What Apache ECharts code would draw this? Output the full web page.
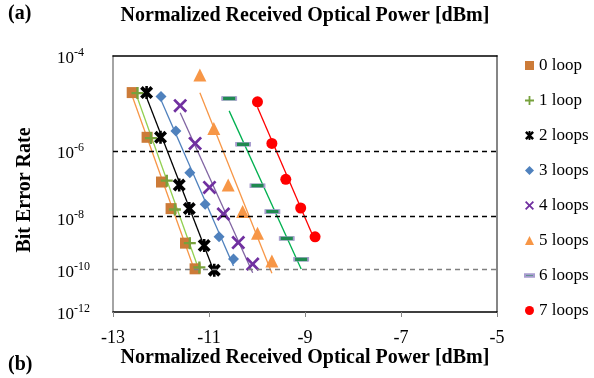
<!DOCTYPE html>
<html>
<head>
<meta charset="utf-8">
<script src="https://cdn.jsdelivr.net/npm/echarts@6/dist/echarts.min.js"></script>
<style>
html,body{margin:0;padding:0;background:#fff;}
#chart{width:594px;height:378px;}
</style>
</head>
<body>
<div id="chart"></div>
<script>
// Normalized received optical power [dBm] and log10(BER) per series
const seriesNames = ['0 loop', '1 loop', '2 loops', '3 loops', '4 loops', '5 loops', '6 loops', '7 loops'];
const loop0Power = [-12.60, -12.29, -11.99, -11.79, -11.49, -11.29];
const loop0LogBER = [-4.68, -5.67, -6.87, -7.70, -8.93, -9.97];
const loop1Power = [-12.49, -12.21, -11.88, -11.71, -11.40, -11.20];
const loop1LogBER = [-4.69, -5.69, -6.83, -7.73, -8.93, -9.91];
const loop2Power = [-12.30, -12.01, -11.62, -11.41, -11.10, -10.89];
const loop2LogBER = [-4.68, -5.67, -6.96, -7.70, -9.02, -10.03];
const loop3Power = [-12.00, -11.69, -11.40, -11.08, -10.79, -10.49];
const loop3LogBER = [-4.76, -5.52, -6.60, -7.56, -8.69, -9.56];
const loop4Power = [-11.60, -11.29, -10.99, -10.70, -10.39, -10.09];
const loop4LogBER = [-4.95, -5.82, -7.03, -7.88, -8.91, -9.77];
const loop5Power = [-11.19, -10.90, -10.60, -10.30, -9.99, -9.69];
const loop5LogBER = [-4.34, -5.46, -6.96, -7.80, -8.56, -9.64];
const loop6Power = [-10.58, -10.29, -9.99, -9.68, -9.38, -9.08];
const loop6LogBER = [-4.80, -5.84, -6.98, -7.80, -8.75, -9.57];
const loop7Power = [-9.99, -9.69, -9.40, -9.09, -8.79];
const loop7LogBER = [-4.87, -5.82, -6.79, -7.68, -8.69];
const xTicks = [-13, -11, -9, -7, -5];
const berExponentTicks = [4, 6, 8, 10, 12];
const gridExponents = [6, 8, 10];

const powers = [loop0Power, loop1Power, loop2Power, loop3Power, loop4Power, loop5Power, loop6Power, loop7Power];
const logBers = [loop0LogBER, loop1LogBER, loop2LogBER, loop3LogBER, loop4LogBER, loop5LogBER, loop6LogBER, loop7LogBER];

// BER scale: y = log10(-log10(BER))
const toY = (logBer) => Math.log10(-logBer);
const expToY = (e) => Math.log10(e);

const FONT = '"Liberation Serif", "Times New Roman", serif';

const markerColors = ['#cc7b38', '#77a13c', '#000000', '#4f81bd', '#7030a0', '#f79646', '#1f8a50', '#ff0000'];
const lineColors = ['#f79646', '#92d050', '#000000', '#4f81bd', '#8064a2', '#f79646', '#00b050', '#ff0000'];
const symbols = [
  'rect',
  'path://M4,0H6V4H10V6H6V10H4V6H0V4H4Z',
  'path://M0,2L2,0L10,8L8,10Z M8,0L10,2L2,10L0,8Z M4,0H6V10H4Z',
  'diamond',
  'path://M0,1.4L1.4,0L5,3.6L8.6,0L10,1.4L6.4,5L10,8.6L8.6,10L5,6.4L1.4,10L0,8.6L3.6,5Z',
  'triangle',
  'rect',
  'circle'
];
const symbolSizes = [11, 12, 13, 11, 14, 13, [14, 4], 11];

function fit(xs, ys) {
  const n = xs.length;
  let sx = 0, sy = 0, sxx = 0, sxy = 0;
  for (let i = 0; i < n; i++) { sx += xs[i]; sy += ys[i]; sxx += xs[i] * xs[i]; sxy += xs[i] * ys[i]; }
  const b = (n * sxy - sx * sy) / (n * sxx - sx * sx);
  const a = (sy - b * sx) / n;
  const x0 = Math.min(...xs), x1 = Math.max(...xs);
  return [[x0, a + b * x0], [x1, a + b * x1]];
}

const series = [];
// dashed reference lines
series.push({
  type: 'line', data: [], silent: true,
  markLine: {
    silent: true, symbol: 'none', label: { show: false },
    data: gridExponents.map((e, i) => ({
      yAxis: expToY(e),
      lineStyle: { color: i === 2 ? '#7f7f7f' : '#000000', type: [5, 4], width: 1.3 }
    }))
  }
});
for (let k = 0; k < seriesNames.length; k++) {
  const ys = logBers[k].map(toY);
  series.push({
    type: 'line', name: seriesNames[k] + ' fit', data: fit(powers[k], ys),
    symbol: 'none', silent: true, z: 2,
    lineStyle: { color: lineColors[k], width: 1.3 }
  });
}
for (let k = 0; k < seriesNames.length; k++) {
  const itemStyle = { color: markerColors[k], opacity: 1 };
  if (k === 6) { itemStyle.borderColor = '#a89ccf'; itemStyle.borderWidth = 1; }
  series.push({
    type: 'scatter', name: seriesNames[k],
    data: powers[k].map((x, i) => [x, toY(logBers[k][i])]),
    symbol: symbols[k], symbolSize: symbolSizes[k], z: 3,
    itemStyle
  });
}

const legendData = seriesNames.map((n, k) => k === 6 ? { name: n, icon: 'path://M0,0H14V4H0Z' } : { name: n });

const option = {
  animation: false,
  backgroundColor: '#ffffff',
  grid: { left: 113, top: 56, width: 384, height: 256, containLabel: false },
  legend: {
    orient: 'vertical', left: 519, top: 52, itemGap: 18,
    itemWidth: 9, itemHeight: 9, data: legendData,
    textStyle: { fontFamily: FONT, fontSize: 17, color: '#000', lineHeight: 17 },
    selectedMode: false
  },
  xAxis: [
    {
      type: 'value', min: -13, max: -5, interval: 2, position: 'bottom',
      axisLine: { onZero: false, lineStyle: { color: '#000', width: 1.5 } },
      axisTick: { show: true, inside: false, length: 5, lineStyle: { color: '#868686' } },
      axisLabel: { fontFamily: FONT, fontSize: 18, color: '#000', margin: 17 },
      splitLine: { show: false }
    },
    {
      type: 'value', min: -13, max: -5, position: 'top',
      axisLine: { onZero: false, lineStyle: { color: '#000', width: 1.5 } },
      axisTick: { show: false }, axisLabel: { show: false }, splitLine: { show: false }
    }
  ],
  yAxis: [
    {
      type: 'value', inverse: true, min: expToY(4), max: expToY(12), position: 'left',
      axisLine: { show: true, onZero: false, lineStyle: { color: '#868686', width: 1.5 } },
      axisTick: { show: false },
      splitLine: { show: false },
      axisLabel: {
        customValues: berExponentTicks.map(expToY),
        align: 'left', margin: 56,
        formatter: (v) => '{b|10}{s|-' + Math.round(Math.pow(10, v)) + '}',
        rich: {
          b: { fontFamily: FONT, fontSize: 17, color: '#000', padding: [6, 0, 0, 0] },
          s: { fontFamily: FONT, fontSize: 12, color: '#000', padding: [0, 0, 6, 0] }
        }
      }
    },
    {
      type: 'value', inverse: true, min: expToY(4), max: expToY(12), position: 'right',
      axisLine: { show: true, onZero: false, lineStyle: { color: '#868686', width: 2 } },
      axisTick: { show: false }, axisLabel: { show: false }, splitLine: { show: false }
    }
  ],
  graphic: [
    { type: 'text', left: 8, top: 4, style: { text: '(a)', font: 'bold 20px ' + FONT, fill: '#000' } },
    { type: 'text', x: 305, y: 16, style: { text: 'Normalized Received Optical Power [dBm]', font: 'bold 20px ' + FONT, fill: '#000', textAlign: 'center', textVerticalAlign: 'middle' } },
    { type: 'text', x: 305, y: 358, style: { text: 'Normalized Received Optical Power [dBm]', font: 'bold 20px ' + FONT, fill: '#000', textAlign: 'center', textVerticalAlign: 'middle' } },
    { type: 'text', left: 8, top: 355, style: { text: '(b)', font: 'bold 20px ' + FONT, fill: '#000' } },
    { type: 'text', x: 25, y: 190, rotation: Math.PI / 2, style: { text: 'Bit Error Rate', font: 'bold 20px ' + FONT, fill: '#000', textAlign: 'center', textVerticalAlign: 'middle' } }
  ],
  series
};

const chart = echarts.init(document.getElementById('chart'), null, { renderer: 'canvas' });
chart.setOption(option);
</script>
</body>
</html>
